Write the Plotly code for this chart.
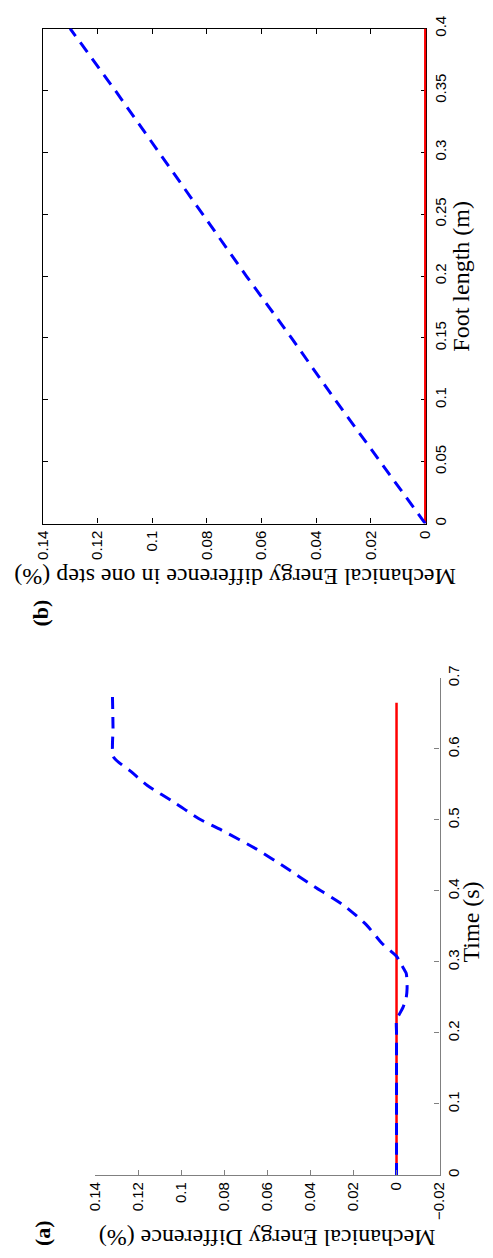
import plotly.graph_objects as go

W, H = 493, 1258

# ---- data (a) ----
time_red_a = [0.0, 0.665]
val_red_a = [0.0, 0.0]
time_blue_a = [0.0, 0.05, 0.10, 0.15, 0.20, 0.218, 0.236, 0.25, 0.263, 0.275, 0.284, 0.295,
               0.308, 0.326, 0.353, 0.38, 0.406, 0.433, 0.459, 0.486, 0.502, 0.523, 0.549,
               0.568, 0.589, 0.63, 0.681]
val_blue_a = [0.0, 0.0, 0.0, 0.0, 0.0, 0.0, -0.003, -0.0045, -0.0049, -0.0048, -0.0045, -0.0025,
              0.0, 0.0067, 0.0142, 0.0246, 0.0381, 0.0515, 0.065, 0.0814, 0.0919, 0.1023, 0.1158,
              0.1232, 0.1314, 0.1316, 0.1319]
val_ticks_a = [-0.02, 0.0, 0.02, 0.04, 0.06, 0.08, 0.10, 0.12, 0.14]
val_ticktext_a = ["\u22120.02", "0", "0.02", "0.04", "0.06", "0.08", "0.1", "0.12", "0.14"]
time_ticks_a = [0.0, 0.1, 0.2, 0.3, 0.4, 0.5, 0.6, 0.7]
time_ticktext_a = ["0", "0.1", "0.2", "0.3", "0.4", "0.5", "0.6", "0.7"]

# ---- data (b) ----
foot_red_b = [0.0, 0.4]
val_red_b = [0.0, 0.0]
foot_blue_b = [0.0, 0.05, 0.10, 0.15, 0.20, 0.25, 0.30, 0.35, 0.40]
val_blue_b = [0.0, 0.0165, 0.033, 0.049, 0.0655, 0.0815, 0.0975, 0.1135, 0.130]
val_ticks_b = [0.0, 0.02, 0.04, 0.06, 0.08, 0.10, 0.12, 0.14]
val_ticktext_b = ["0", "0.02", "0.04", "0.06", "0.08", "0.1", "0.12", "0.14"]
foot_ticks_b = [0.0, 0.05, 0.10, 0.15, 0.20, 0.25, 0.30, 0.35, 0.40]
foot_ticktext_b = ["0", "0.05", "0.1", "0.15", "0.2", "0.25", "0.3", "0.35", "0.4"]

RED = "#ff0000"
BLUE = "#0000ff"
DASH = "12px,8px"
SERIF = "Liberation Serif, Times New Roman, serif"
SANS = "Liberation Sans, Arial, sans-serif"


def px(x):
    return x / W


def py(y):
    return 1 - y / H


fig = go.Figure()

# (a) traces: x = value, y = time
fig.add_trace(go.Scatter(x=val_red_a, y=time_red_a, mode="lines",
                         line=dict(color=RED, width=2.5), xaxis="x", yaxis="y",
                         showlegend=False))
fig.add_trace(go.Scatter(x=val_blue_a, y=time_blue_a, mode="lines",
                         line=dict(color=BLUE, width=3, dash=DASH, shape="spline", smoothing=0.6),
                         xaxis="x", yaxis="y", showlegend=False))
# (b) traces
fig.add_trace(go.Scatter(x=val_red_b, y=foot_red_b, mode="lines",
                         line=dict(color=RED, width=2.5), xaxis="x2", yaxis="y2",
                         showlegend=False))
fig.add_trace(go.Scatter(x=val_blue_b, y=foot_blue_b, mode="lines",
                         line=dict(color=BLUE, width=3, dash=DASH),
                         xaxis="x2", yaxis="y2", showlegend=False))

GREY = "#808080"
tickfont = dict(family=SANS, size=15, color="#000000")

fig.update_layout(
    width=W, height=H,
    margin=dict(l=0, r=0, t=0, b=0),
    paper_bgcolor="white", plot_bgcolor="white",
    showlegend=False,
    xaxis=dict(domain=[px(89), px(446)], range=[0.14, -0.02], side="bottom",
               showline=True, linecolor=GREY, linewidth=1.3, showgrid=False, zeroline=False,
               ticks="inside", ticklen=5, tickcolor=GREY, tickwidth=1.3,
               tickvals=val_ticks_a, ticktext=val_ticktext_a, tickangle=-90,
               tickfont=tickfont, anchor="y"),
    yaxis=dict(domain=[py(1176), py(673)], range=[0, 0.7], side="right",
               showline=True, linecolor=GREY, linewidth=1.3, showgrid=False, zeroline=False,
               ticks="inside", ticklen=5, tickcolor=GREY, tickwidth=1.3,
               tickvals=time_ticks_a, ticktext=time_ticktext_a, tickangle=-90,
               tickfont=tickfont, anchor="x"),
    xaxis2=dict(domain=[px(35), px(432.3)], range=[0.14, -0.0004], side="bottom",
                showline=True, linecolor="#000000", linewidth=1.3, mirror="ticks",
                showgrid=False, zeroline=False,
                ticks="inside", ticklen=5, tickcolor="#000000", tickwidth=1.3,
                tickvals=val_ticks_b, ticktext=val_ticktext_b, tickangle=-90,
                tickfont=tickfont, anchor="y2", layer="below traces"),
    yaxis2=dict(domain=[py(516.7), py(15.7)], range=[0, 0.4], side="right",
                showline=True, linecolor="#000000", linewidth=1.3, mirror="ticks",
                showgrid=False, zeroline=False,
                ticks="inside", ticklen=5, tickcolor="#000000", tickwidth=1.3,
                tickvals=foot_ticks_b, ticktext=foot_ticktext_b, tickangle=-90,
                tickfont=tickfont, anchor="x2", layer="below traces"),
)

titlefont = dict(family=SERIF, size=24, color="#000000")
labelfont = dict(family=SERIF, size=22, color="#000000")
annotations = [
    dict(text="Mechanical Energy Difference (%)", x=px(267), y=py(1240), textangle=180,
         font=titlefont),
    dict(text="Time (s)", x=px(479), y=py(920), textangle=-90, font=titlefont),
    dict(text="<b>(a)</b>", x=px(34), y=py(1235), textangle=-90, font=labelfont),
    dict(text="Mechanical Energy difference in one step (%)", x=px(233.5), y=py(571),
         textangle=180, font=titlefont),
    dict(text="Foot length (m)", x=px(468), y=py(266), textangle=-90, font=titlefont),
    dict(text="<b>(b)</b>", x=px(33), y=py(607), textangle=-90, font=labelfont),
]
for a in annotations:
    a.update(xref="paper", yref="paper", xanchor="center", yanchor="middle",
             showarrow=False)
fig.update_layout(annotations=annotations)

fig.write_html("out.html")
